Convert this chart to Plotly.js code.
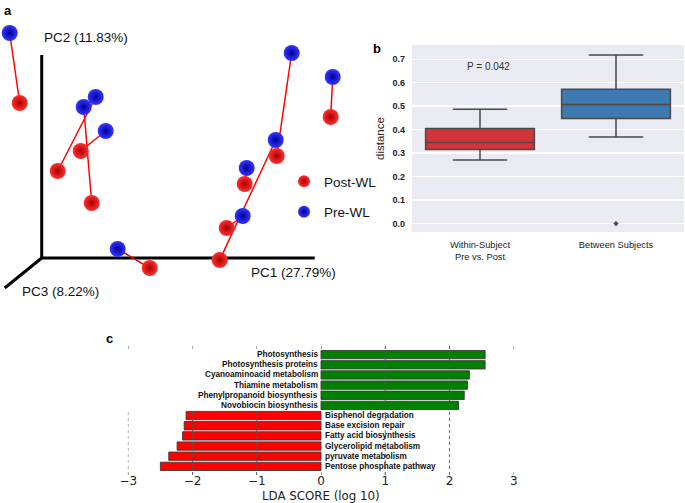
<!DOCTYPE html>
<html><head><meta charset="utf-8">
<script src="https://cdn.plot.ly/plotly-3.0.1.min.js"></script>
<style>html,body{margin:0;padding:0;background:#fff}#chart{width:685px;height:503px}</style>
</head><body><div id="chart"></div><script>
// ---- Panel a: PCoA (projected 2D coordinates of paired samples) ----
const preX  = [-0.32, 0.42, 0.54, 0.64, 0.76, 2.50, 2.34, 2.05, 2.01, 2.91];
const preY  = [ 2.25, 1.51, 1.61, 1.27, 0.09, 2.05, 1.18, 0.90, 0.42, 1.81];
const postX = [-0.22, 0.50, 0.16, 0.39, 1.08, 2.35, 1.78, 2.03, 1.85, 2.89];
const postY = [ 1.55, 0.55, 0.87, 1.07,-0.10, 1.02,-0.02, 0.74, 0.30, 1.41];
const groupNames = ['Post-WL', 'Pre-WL'];
const pcLabels = ['PC1 (27.79%)', 'PC2 (11.83%)', 'PC3 (8.22%)'];

// ---- Panel b: distances ----
const boxCats   = ['Within-Subject<br>Pre vs. Post', 'Between Subjects'];
const boxLower  = [0.270, 0.368];
const boxQ1     = [0.315, 0.447];
const boxMedian = [0.345, 0.507];
const boxQ3     = [0.405, 0.572];
const boxUpper  = [0.487, 0.717];
const outlierCat = ['Between Subjects'];
const outlierVal = [0.0];
const pText = 'P = 0.042';
const distTicks = [0, 0.1, 0.2, 0.3, 0.4, 0.5, 0.6, 0.7];

// ---- Panel c: LDA scores ----
const pathways = ['Photosynthesis', 'Photosynthesis proteins', 'Cyanoaminoacid metabolism',
  'Thiamine metabolism', 'Phenylpropanoid biosynthesis', 'Novobiocin biosynthesis',
  'Bisphenol degradation', 'Base excision repair', 'Fatty acid biosynthesis',
  'Glycerolipid metabolism', 'pyruvate metabolism', 'Pentose phosphate pathway'];
const ldaScores = [2.555, 2.555, 2.31, 2.28, 2.23, 2.14, -2.10, -2.13, -2.155, -2.24, -2.37, -2.50];
const ldaTicks = [-3, -2, -1, 0, 1, 2, 3];
const ldaTitle = 'LDA SCORE (log 10)';

const SANS = 'Liberation Sans, Arial, sans-serif';
const DJV = 'DejaVu Sans, sans-serif';

// pair lines
const lx = [], ly = [];
preX.forEach((v, i) => { lx.push(preX[i], postX[i], null); ly.push(preY[i], postY[i], null); });

const traces = [
  {type:'scatter', mode:'lines', x:lx, y:ly, xaxis:'x', yaxis:'y', showlegend:false,
   line:{color:'#ff0000', width:1.5}, hoverinfo:'skip'},
  {type:'scatter', mode:'markers', x:preX, y:preY, xaxis:'x', yaxis:'y', name:groupNames[1],
   legendrank:2, legendgroup:'pre',
   marker:{size:16, color:'#3535ff', gradient:{type:'radial', color:'#00009a'}, line:{width:0}}},
  {type:'scatter', mode:'markers', x:postX, y:postY, xaxis:'x', yaxis:'y', name:groupNames[0],
   legendrank:1, legendgroup:'post',
   marker:{size:16, color:'#ff3030', gradient:{type:'radial', color:'#a80000'}, line:{width:0}}}
];

const boxColors = ['#d3343a', '#3f79b2'];
boxCats.forEach((c, i) => {
  traces.push({type:'box', x:[c], q1:[boxQ1[i]], median:[boxMedian[i]], q3:[boxQ3[i]],
    lowerfence:[boxLower[i]], upperfence:[boxUpper[i]], xaxis:'x2', yaxis:'y2',
    width:0.8, whiskerwidth:0.5, boxpoints:false, fillcolor:boxColors[i],
    line:{color:'#4a4a4a', width:1.5}, showlegend:false, hoverinfo:'skip'});
});
traces.push({type:'scatter', mode:'markers', x:outlierCat, y:outlierVal, xaxis:'x2', yaxis:'y2',
  marker:{symbol:'diamond', size:4, color:'#4a4a4a'}, showlegend:false});

traces.push({type:'bar', orientation:'h', x:ldaScores, y:pathways, xaxis:'x3', yaxis:'y3',
  width:0.82, marker:{color:ldaScores.map(v => v > 0 ? '#008000' : '#ff0000'),
  line:{color:'#3a3a3a', width:0.9}}, showlegend:false, hoverinfo:'skip'});

const letter = (t, px, py) => ({text:'<b>' + t + '</b>', xref:'paper', yref:'paper', x:px/685, y:1-py/503,
  xanchor:'center', yanchor:'middle', showarrow:false, font:{family:SANS, size:13, color:'#000'}});

const annotations = [
  letter('a', 8, 10), letter('b', 377, 48), letter('c', 109, 338),
  {text:pcLabels[1], xref:'x', yref:'y', x:0.0, y:2.21, xanchor:'left', yanchor:'middle', showarrow:false, font:{family:SANS, size:13.5, color:'#111'}},
  {text:pcLabels[0], xref:'x', yref:'y', x:2.07, y:-0.14, xanchor:'left', yanchor:'middle', showarrow:false, font:{family:SANS, size:13.5, color:'#111'}},
  {text:pcLabels[2], xref:'x', yref:'y', x:-0.215, y:-0.335, xanchor:'left', yanchor:'middle', showarrow:false, font:{family:SANS, size:13.5, color:'#111'}},
  {text:pText, xref:'paper', yref:'paper', x:488/685, y:1-66/503, xanchor:'center', yanchor:'middle', showarrow:false, font:{family:SANS, size:10, color:'#333'}},
  {text:ldaTitle, xref:'x3', yref:'paper', x:0, y:0, xanchor:'center', yanchor:'bottom', yshift:-1, borderpad:0, showarrow:false,
   font:{family:DJV, size:11.8, color:'#222'}}
];
pathways.forEach((p, i) => {
  const pos = ldaScores[i] > 0;
  annotations.push({text:'<b>' + p + '</b>', xref:'x3', yref:'y3', x:0, y:p, showarrow:false,
    xanchor: pos ? 'right' : 'left', xshift: pos ? -1.5 : 1.5,
    font:{family:SANS, size:8.2, color:'#111'}});
});

const shapes = [
  // panel a axis frame
  {type:'line', xref:'x', yref:'y', x0:0, y0:0, x1:0, y1:2.03, line:{color:'#000', width:3}, layer:'below'},
  {type:'line', xref:'x', yref:'y', x0:0, y0:0, x1:2.73, y1:0, line:{color:'#000', width:3}, layer:'below'},
  {type:'line', xref:'x', yref:'y', x0:0, y0:0, x1:-0.37, y1:-0.30, line:{color:'#000', width:3}, layer:'below'},
  // panel b background
  {type:'rect', xref:'x2 domain', yref:'y2 domain', x0:0, x1:1, y0:0, y1:1, fillcolor:'#eaeaf2', line:{width:0}, layer:'below'}
];
ldaTicks.filter(t => t !== 0 && t !== 3).forEach(t => {
  shapes.push({type:'line', xref:'x3', yref:'y3 domain', x0:t, x1:t, y0:0, y1: t > 0 ? 1 : 0.5,
    line:{color: t === -3 ? '#aaa' : '#555', width:0.9, dash:'dot'}, layer:'above'});
});

const layout = {
  width:685, height:503, margin:{l:0, r:0, t:0, b:0},
  paper_bgcolor:'#fff', plot_bgcolor:'rgba(0,0,0,0)',
  showlegend:true,
  legend:{x:284/685, y:1-166/503, xanchor:'left', yanchor:'top', bgcolor:'rgba(0,0,0,0)',
    traceorder:'grouped', tracegroupgap:10, itemsizing:'constant',
    font:{family:SANS, size:13.5, color:'#111'}},
  xaxis:{domain:[0, 345/685], range:[-0.417, 3.033], visible:false, fixedrange:true},
  yaxis:{domain:[1-300/503, 1], range:[-0.42, 2.58], visible:false, fixedrange:true},
  xaxis2:{domain:[412/685, 684/685], anchor:'y2', type:'category', range:[-0.5, 1.5],
    showgrid:false, zeroline:false, showline:false, ticks:'', ticklabelstandoff:6, automargin:false,
    tickfont:{family:SANS, size:9.3, color:'#222'}},
  yaxis2:{domain:[1-232/503, 1-45/503], anchor:'x2', range:[-0.036, 0.76], tickvals:distTicks,
    tickformat:'.1f', showgrid:true, gridcolor:'#ffffff', gridwidth:1.2, zeroline:false, showline:false,
    ticks:'', ticklabelstandoff:6, automargin:false,
    tickfont:{family:SANS, size:9, color:'#222', weight:'bold'},
    title:{text:'distance', standoff:5, font:{family:SANS, size:11.5, color:'#222'}}},
  xaxis3:{domain:[109/685, 533/685], anchor:'y3', range:[-3.3, 3.3], tickvals:ldaTicks,
    showgrid:false, zeroline:false, showline:false, ticks:'inside', ticklen:3, tickcolor:'#aaa',
    mirror:'ticks', ticklabelstandoff:-3, automargin:false,
    tickfont:{family:DJV, size:12, color:'#222'}},
  yaxis3:{domain:[1-475/503, 1-346/503], anchor:'x3', type:'category', range:[11.85, -0.85],
    categoryorder:'array', categoryarray:pathways,
    showgrid:false, zeroline:false, showline:false, showticklabels:false, ticks:'', automargin:false},
  annotations:annotations, shapes:shapes
};

Plotly.newPlot('chart', traces, layout, {staticPlot:true, displayModeBar:false});
</script></body></html>
